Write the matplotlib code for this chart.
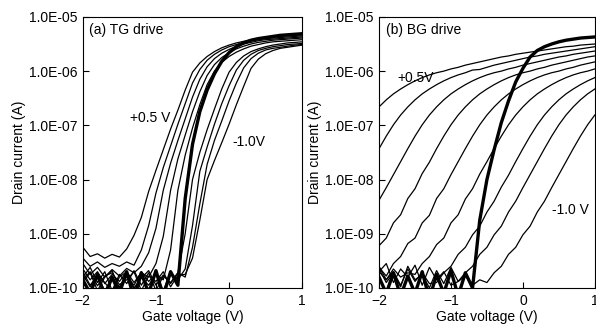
import matplotlib
matplotlib.use("Agg")
import matplotlib.pyplot as plt
import numpy as np
from matplotlib.ticker import FuncFormatter, LogLocator, NullLocator

plt.rcParams["font.family"] = ["Liberation Sans", "DejaVu Sans"]

# gate voltage grid (V), shared by every sweep
VG = [round(-2.0 + 0.1 * i, 1) for i in range(31)]

# ---- (a) TG drive: log10(drain current / A) ----
TG_THIN = [
    # +0.5 V
    [-9.25, -9.42, -9.37, -9.45, -9.38, -9.43, -9.28, -9.03, -8.70, -8.22, -7.83, -7.45, -7.07, -6.72, -6.35, -6.02,
     -5.85, -5.73, -5.64, -5.57, -5.52, -5.48, -5.45, -5.42, -5.40, -5.38, -5.37, -5.36, -5.35, -5.34, -5.33],
    [-9.45, -9.60, -9.52, -9.62, -9.55, -9.60, -9.52, -9.58, -9.30, -8.85, -8.25, -7.78, -7.38, -6.98, -6.60, -6.22,
     -5.97, -5.80, -5.69, -5.61, -5.55, -5.51, -5.47, -5.44, -5.42, -5.40, -5.39, -5.38, -5.37, -5.36, -5.35],
    [-9.55, -9.75, -9.62, -9.80, -9.66, -9.78, -9.64, -9.72, -9.60, -9.35, -8.90, -8.20, -7.70, -7.28, -6.88, -6.48,
     -6.15, -5.92, -5.77, -5.67, -5.60, -5.54, -5.50, -5.47, -5.44, -5.42, -5.41, -5.40, -5.39, -5.38, -5.37],
    [-9.65, -9.85, -9.70, -9.92, -9.75, -9.88, -9.70, -9.90, -9.72, -9.80, -9.55, -9.05, -8.20, -7.62, -7.18, -6.75,
     -6.38, -6.08, -5.88, -5.75, -5.66, -5.59, -5.54, -5.50, -5.47, -5.45, -5.43, -5.42, -5.41, -5.40, -5.39],
    [-9.70, -9.95, -9.78, -10.05, -9.82, -9.98, -9.76, -10.02, -9.80, -9.95, -9.74, -9.85, -9.30, -8.20, -7.55, -7.05,
     -6.62, -6.25, -6.00, -5.84, -5.73, -5.65, -5.59, -5.54, -5.51, -5.48, -5.46, -5.45, -5.44, -5.43, -5.42],
    [-9.80, -9.62, -9.90, -9.70, -10.05, -9.75, -9.92, -9.68, -9.95, -9.72, -10.05, -9.78, -9.90, -9.72, -9.00, -8.00,
     -7.50, -7.08, -6.70, -6.33, -6.02, -5.84, -5.72, -5.64, -5.59, -5.55, -5.52, -5.50, -5.48, -5.47, -5.46],
    [-9.90, -9.72, -10.05, -9.80, -9.68, -10.02, -9.78, -9.95, -9.70, -9.88, -9.75, -10.05, -9.72, -9.85, -9.65, -8.85,
     -7.85, -7.40, -6.98, -6.60, -6.27, -5.98, -5.80, -5.69, -5.62, -5.58, -5.55, -5.53, -5.51, -5.50, -5.49],
    [-9.75, -9.98, -9.74, -9.90, -10.08, -9.80, -9.70, -10.00, -9.82, -9.68, -9.95, -9.76, -9.92, -9.72, -9.80, -9.25,
     -8.45, -7.72, -7.28, -6.92, -6.55, -6.22, -5.94, -5.77, -5.67, -5.61, -5.58, -5.56, -5.54, -5.52, -5.51],
    # -1.0 V
    [-9.85, -9.70, -9.96, -9.78, -9.72, -9.94, -9.85, -9.70, -10.05, -9.78, -9.88, -9.70, -9.98, -9.76, -9.75, -9.45,
     -8.75, -8.00, -7.65, -7.32, -6.98, -6.62, -6.28, -5.95, -5.78, -5.68, -5.62, -5.58, -5.56, -5.54, -5.52],
]
TG_THICK = [-9.85, -10.10, -9.75, -10.15, -9.80, -10.10, -9.70, -10.20, -9.72, -10.10, -9.68, -10.15, -9.70, -9.95,
            -8.35, -7.35, -6.75, -6.35, -6.05, -5.82, -5.66, -5.55, -5.48, -5.43, -5.40, -5.38, -5.36, -5.34, -5.33,
            -5.32, -5.31]

# ---- (b) BG drive: log10(drain current / A) ----
BG_THIN = [
    # +0.5 V
    [-6.66, -6.53, -6.42, -6.33, -6.25, -6.18, -6.12, -6.07, -6.03, -6.00, -5.96, -5.93, -5.89, -5.86, -5.83, -5.80,
     -5.77, -5.74, -5.72, -5.69, -5.67, -5.65, -5.63, -5.61, -5.59, -5.57, -5.55, -5.54, -5.52, -5.51, -5.50],
    [-7.43, -7.20, -6.99, -6.81, -6.66, -6.53, -6.42, -6.33, -6.25, -6.18, -6.12, -6.07, -6.03, -5.98, -5.97, -5.93,
     -5.89, -5.86, -5.83, -5.80, -5.77, -5.74, -5.72, -5.69, -5.67, -5.65, -5.63, -5.61, -5.59, -5.57, -5.55],
    [-8.38, -8.15, -7.91, -7.67, -7.43, -7.20, -6.99, -6.81, -6.66, -6.53, -6.42, -6.33, -6.25, -6.18, -6.12, -6.07,
     -6.03, -6.00, -5.96, -5.93, -5.89, -5.86, -5.83, -5.80, -5.77, -5.74, -5.72, -5.69, -5.67, -5.65, -5.63],
    [-9.22, -9.08, -8.80, -8.65, -8.35, -8.17, -7.89, -7.68, -7.43, -7.20, -6.99, -6.81, -6.66, -6.53, -6.42, -6.33,
     -6.25, -6.18, -6.12, -6.07, -6.03, -6.00, -5.96, -5.93, -5.89, -5.86, -5.83, -5.80, -5.77, -5.74, -5.72],
    [-9.62, -9.78, -9.55, -9.42, -9.18, -9.08, -8.80, -8.66, -8.35, -8.17, -7.91, -7.67, -7.43, -7.20, -6.99, -6.81,
     -6.66, -6.53, -6.42, -6.33, -6.25, -6.18, -6.12, -6.07, -6.03, -6.00, -5.96, -5.93, -5.89, -5.86, -5.83],
    [-9.70, -9.85, -9.65, -9.80, -9.72, -9.75, -9.55, -9.42, -9.20, -9.08, -8.80, -8.65, -8.36, -8.17, -7.90, -7.67,
     -7.43, -7.20, -6.99, -6.81, -6.66, -6.53, -6.42, -6.33, -6.25, -6.18, -6.12, -6.07, -6.03, -6.00, -5.96],
    [-9.60, -9.85, -9.70, -9.95, -9.65, -9.88, -9.72, -9.92, -9.90, -9.72, -9.60, -9.38, -9.25, -9.02, -8.86, -8.60,
     -8.40, -8.14, -7.92, -7.67, -7.43, -7.20, -6.99, -6.81, -6.66, -6.53, -6.42, -6.33, -6.25, -6.18, -6.12],
    [-9.70, -9.55, -9.90, -9.65, -9.80, -9.58, -9.95, -9.62, -9.85, -9.70, -9.95, -9.88, -9.72, -9.60, -9.38, -9.25,
     -9.02, -8.86, -8.60, -8.40, -8.15, -7.91, -7.67, -7.43, -7.20, -6.99, -6.81, -6.66, -6.53, -6.42, -6.33],
    # -1.0 V
    [-9.65, -9.90, -9.72, -9.98, -9.60, -9.85, -9.75, -10.00, -9.68, -9.92, -9.62, -9.88, -9.78, -9.95, -9.85, -9.90,
     -9.72, -9.60, -9.38, -9.25, -9.02, -8.86, -8.60, -8.40, -8.15, -7.91, -7.67, -7.43, -7.20, -6.99, -6.81],
]
BG_THICK = [-9.80, -10.10, -9.72, -10.15, -9.78, -10.10, -9.70, -10.20, -9.75, -10.10, -9.68, -10.15, -9.72, -10.00,
            -8.75, -8.00, -7.45, -6.95, -6.55, -6.20, -5.95, -5.74, -5.62, -5.55, -5.50, -5.46, -5.43, -5.41, -5.39,
            -5.38, -5.37]

PANELS = [
    ("(a) TG drive", TG_THIN, TG_THICK, ("+0.5 V", -1.36, -6.87), ("-1.0V", 0.04, -7.30)),
    ("(b) BG drive", BG_THIN, BG_THICK, ("+0.5V", -1.75, -6.13), ("-1.0 V", 0.40, -8.56)),
]

fig = plt.figure(figsize=(5.96, 3.25), dpi=100)
boxes = [[0.139, 0.114, 0.368, 0.834], [0.636, 0.114, 0.362, 0.834]]
FS = 10

for box, (title, thin, thick, lab_hi, lab_lo) in zip(boxes, PANELS):
    ax = fig.add_axes(box)
    for curve in thin:
        ax.plot(VG, 10 ** np.array(curve), color="black", lw=0.9)
    ax.plot(VG, 10 ** np.array(thick), color="black", lw=2.4)
    ax.set_yscale("log")
    ax.set_xlim(-2, 1)
    ax.set_ylim(1e-10, 1e-5)
    ax.set_xticks([-2, -1, 0, 1])
    ax.yaxis.set_major_locator(LogLocator(base=10, numticks=10))
    ax.yaxis.set_minor_locator(NullLocator())
    ax.yaxis.set_major_formatter(FuncFormatter(lambda v, p: f"{v:.1E}"))
    ax.tick_params(direction="in", length=4, width=0.8, labelsize=FS, pad=4)
    for s in ax.spines.values():
        s.set_linewidth(0.8)
    ax.set_xlabel("Gate voltage (V)", fontsize=FS, labelpad=1.5)
    ax.set_ylabel("Drain current (A)", fontsize=FS, labelpad=2)
    ax.text(0.03, 0.952, title, transform=ax.transAxes, fontsize=FS, va="center", ha="left")
    for txt, x, ly in (lab_hi, lab_lo):
        ax.text(x, 10 ** ly, txt, fontsize=FS, va="center", ha="left")

fig.savefig("out.png", dpi=100)
